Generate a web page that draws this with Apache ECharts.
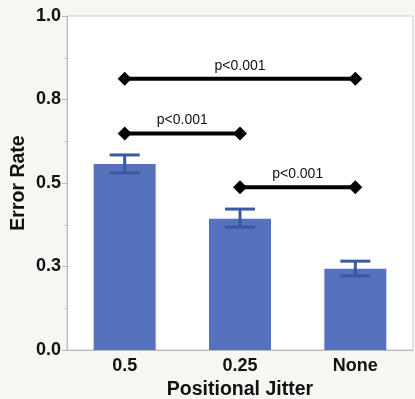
<!DOCTYPE html>
<html><head><meta charset="utf-8">
<script src="https://cdn.jsdelivr.net/npm/echarts@6/dist/echarts.min.js"></script>
<style>html,body{margin:0;padding:0;background:#f6f6f2}#c{width:415px;height:399px}</style>
</head><body><div id="c"></div>
<script>
const categories = ['0.5', '0.25', 'None'];
const errorRate = [0.557, 0.393, 0.243];
const errLow = [0.530, 0.368, 0.222];
const errHigh = [0.584, 0.422, 0.266];
const yTicks = [0, 0.25, 0.5, 0.75, 1.0];
// comparisons: [fromIndex, toIndex, yLevel, label]
const compFrom = [0, 0, 1];
const compTo = [2, 1, 2];
const compLevel = [0.812, 0.648, 0.487];
const compLabel = ['p<0.001', 'p<0.001', 'p<0.001'];

const font = 'Liberation Sans, Arial, Helvetica, sans-serif';
const chart = echarts.init(document.getElementById('c'));
chart.setOption({
  backgroundColor: '#f6f6f2',
  animation: false,
  grid: { left: 67, right: 2, top: 16, bottom: 49, outerBoundsMode: 'none', containLabel: false, show: true, backgroundColor: '#ffffff', borderColor: '#cccccc', borderWidth: 1 },
  xAxis: {
    type: 'category', data: categories,
    name: 'Positional Jitter', nameLocation: 'middle', nameGap: 26,
    nameTextStyle: { fontFamily: font, fontWeight: 'bold', fontSize: 19.5, color: '#111' },
    axisLine: { lineStyle: { color: '#bbbbbb' } },
    axisTick: { show: false },
    axisLabel: { fontFamily: font, fontWeight: 'bold', fontSize: 18, color: '#111', margin: 7 }
  },
  yAxis: {
    type: 'value', min: 0, max: 1, interval: 0.25,
    name: 'Error Rate', nameLocation: 'middle', nameGap: 38, nameMoveOverlap: false,
    nameTextStyle: { fontFamily: font, fontWeight: 'bold', fontSize: 19.5, color: '#111' },
    axisLine: { show: true, lineStyle: { color: '#bbbbbb' } },
    axisTick: { show: true, length: 5, lineStyle: { color: '#bbbbbb' } },
    minorTick: { show: true, splitNumber: 2, length: 3, lineStyle: { color: '#cccccc' } },
    splitLine: { show: false },
    axisLabel: { fontFamily: font, fontWeight: 'bold', fontSize: 18, color: '#111', margin: 6,
      formatter: v => yTicks.includes(v) ? v.toFixed(1) : '' }
  },
  series: [
    {
      type: 'bar', data: errorRate, barWidth: 62,
      itemStyle: { color: '#5672bd' }
    },
    {
      type: 'custom', z: 5,
      data: categories.map((c, i) => [i, errLow[i], errHigh[i]]),
      renderItem: (params, api) => {
        const x = api.value(0);
        const lo = api.coord([x, api.value(1)]);
        const hi = api.coord([x, api.value(2)]);
        const hw = 15;
        const st = { stroke: '#3b58a3', lineWidth: 3 };
        return { type: 'group', children: [
          { type: 'line', shape: { x1: lo[0], y1: lo[1], x2: hi[0], y2: hi[1] }, style: st },
          { type: 'line', shape: { x1: hi[0] - hw, y1: hi[1], x2: hi[0] + hw, y2: hi[1] }, style: st },
          { type: 'line', shape: { x1: lo[0] - hw, y1: lo[1], x2: lo[0] + hw, y2: lo[1] }, style: st }
        ]};
      }
    },
    {
      type: 'custom', z: 6,
      data: compFrom.map((f, i) => [f, compTo[i], compLevel[i]]),
      renderItem: (params, api) => {
        const a = api.coord([api.value(0), api.value(2)]);
        const b = api.coord([api.value(1), api.value(2)]);
        const d = 7;
        const diamond = (p) => ({ type: 'polygon', shape: { points: [[p[0] - d, p[1]], [p[0], p[1] - d], [p[0] + d, p[1]], [p[0], p[1] + d]] }, style: { fill: '#000' } });
        return { type: 'group', children: [
          { type: 'line', shape: { x1: a[0], y1: a[1], x2: b[0], y2: b[1] }, style: { stroke: '#000', lineWidth: 4 } },
          diamond(a), diamond(b),
          { type: 'text', x: (a[0] + b[0]) / 2, y: a[1] - 6, style: { text: compLabel[params.dataIndex], fill: '#111', font: '14px ' + font, align: 'center', verticalAlign: 'bottom' } }
        ]};
      }
    }
  ]
});
</script></body></html>
